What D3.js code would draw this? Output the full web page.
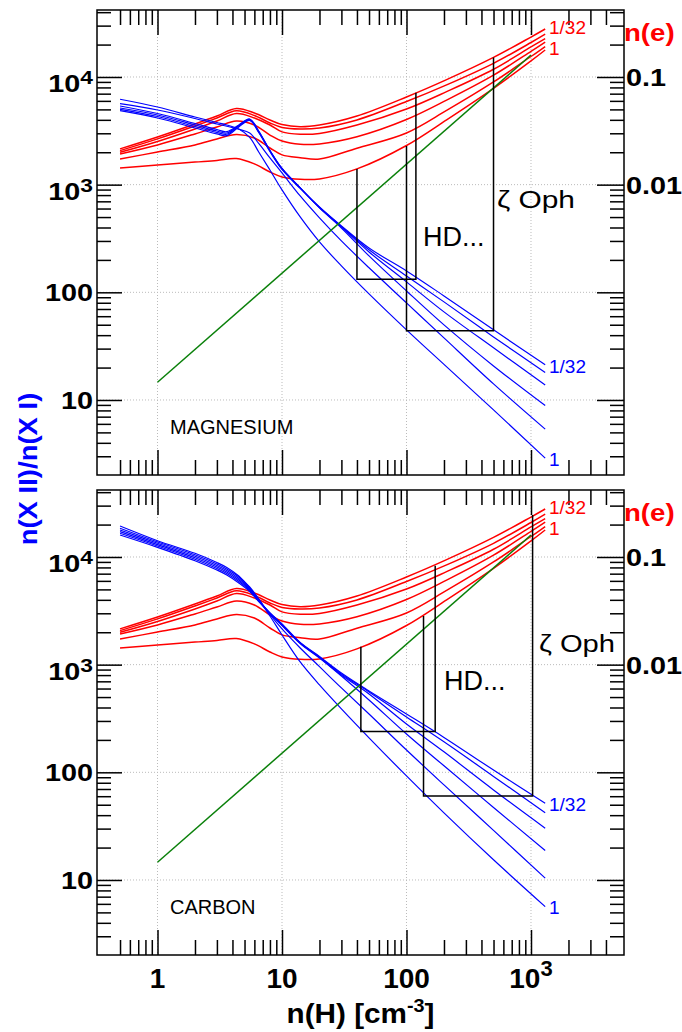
<!DOCTYPE html>
<html lang="en">
<head>
<meta charset="utf-8">
<title>n(X II)/n(X I) vs n(H)</title>
<script src="https://d3js.org/d3.v7.min.js"></script>
<style>
body{margin:0;background:#fff;}
text{font-family:"Liberation Sans",Arial,Helvetica,sans-serif;}
</style>
</head>
<body>
<div id="chart"></div>
<script>
// ---- electron density curves n(e), same in both panels (1/32 ... 1)
var nHRed = [0.5,1,2,3,4.3,6,8,10,14,20,40,100,210,500,1000,1300];
var ne32 = [0.0215,0.0277,0.0366,0.0434,0.051,0.0463,0.0399,0.0362,0.0345,0.0358,0.0434,0.0652,0.0945,0.152,0.235,0.279];
var ne16 = [0.0207,0.0266,0.0351,0.0416,0.0486,0.0439,0.0374,0.034,0.0329,0.0336,0.0399,0.0592,0.0845,0.134,0.209,0.25];
var ne8  = [0.02,0.0252,0.0329,0.039,0.0458,0.0416,0.0358,0.0309,0.0294,0.0299,0.0358,0.0504,0.0731,0.118,0.19,0.227];
var ne4  = [0.0193,0.0234,0.0296,0.0343,0.039,0.0358,0.0289,0.0254,0.0237,0.0239,0.0279,0.0403,0.061,0.104,0.173,0.211];
var ne2  = [0.0173,0.0201,0.0234,0.0266,0.0292,0.0271,0.0219,0.0189,0.0178,0.0173,0.0218,0.0302,0.0489,0.0899,0.155,0.191];
var ne1  = [0.0143,0.0152,0.0162,0.0168,0.0175,0.0156,0.0131,0.0118,0.0112,0.0113,0.014,0.0231,0.040,0.0785,0.141,0.178];

// green line n(e) = f(n(H))
var nHGreen = [1,1000];
var neGreen = [1.46e-4,0.16];

// ---- ionisation ratio curves
var nHBlue = [0.5,1,2,3,3.6,4.5,5.5,6.5,8,10,14,20,30,50,100,200,500,1300];
// magnesium
var mg32 = [4866,4163,3362,2957,2851,3434,3946,3052,2033,1384,922,621,414,258,158,92.6,44.8,21.2];
var mg16 = [5012,4298,3470,3052,2938,3508,3988,3085,2055,1399,932,614,409,248,142,81.5,38.5,18.0];
var mg8  = [5155,4439,3584,3152,3020,3546,4031,3119,2077,1414,932,614,405,237,125,65.8,30.5,13.8];
var mg4  = [5380,4583,3700,3255,3105,3584,4074,3152,2077,1414,932,608,396,218,103,49.8,20.7,8.87];
var mg2  = [5650,4939,4119,3661,3485,3269,3020,2413,1770,1284,785,491,300,169,79.7,37.7,14.1,5.36];
var mg1  = [6210,5265,4253,3780,3584,3291,2750,2012,1369,893,501,294,176,96.6,44.8,21.4,8.09,2.88];
// carbon
var c32 = [16010,12300,9240,7570,6810,5740,4785,3862,3020,2387,1607,1192,837,570,348,211,105,51.6];
var c16 = [16600,12650,9520,7820,7030,5920,4890,3904,3020,2362,1590,1179,819,558,327,192,91.6,42.2];
var c8  = [17180,13010,9830,8070,7260,6120,4990,3946,2987,2336,1590,1166,802,535,281,155,68.6,30.3];
var c4  = [17810,13400,10150,8340,7490,6320,5100,3988,2987,2311,1573,1154,785,470,227,115,47.2,18.8];
var c2  = [18470,13780,10480,8610,7740,6520,5265,4074,2924,2145,1429,958,608,348,161,76.4,28.9,10.4];
var c1  = [19400,14170,10820,8890,7990,6660,5155,3988,2833,1887,1059,648,388,209,92.6,42.0,15.4,5.66];

// ---- observed stars: n(H) range, ratio (bottom), n(e) at left / right side
var mgHD   = {nH:[40,119],  ratio:132,  ne:[0.014,0.0715]};
var mgZeta = {nH:[100,500], ratio:44,   ne:[0.0229,0.152]};
var cHD    = {nH:[43,170],  ratio:239,  ne:[0.0147,0.083]};
var cZeta  = {nH:[137,1030],ratio:60.4, ne:[0.0283,0.245]};

// ---- ticks
var xMajor = [1,10,100,1000];
var xMinor = [0.5,0.6,0.7,0.8,0.9,2,3,4,5,6,7,8,9,20,30,40,50,60,70,80,90,200,300,400,500,600,700,800,900,2000,3000,4000];
var xLabelBase = ["1","10","100","10"];
var xLabelSup  = ["","","","3"];
var yMajor = [10,100,1000,10000];
var yMinor = [3,4,5,6,7,8,9,20,30,40,50,60,70,80,90,200,300,400,500,600,700,800,900,2000,3000,4000,5000,6000,7000,8000,9000,20000,30000,40000];
var yLabelBase = ["10","100","10","10"];
var yLabelSup  = ["","","3","4"];
var neLabelValues = [0.1,0.01];
var neLabelText = ["0.1","0.01"];

var W = 682, H = 1032;
var frameL = 97, frameR = 624, panelTop = 10, panelBottom = 475;
var svg, x;

setUp();
drawPanel({name:"MAGNESIUM", shift:0,   blue:[mg32,mg16,mg8,mg4,mg2,mg1], boxes:[mgHD,mgZeta],
           hd:[423,245.5], zeta:[497,208,78]});
drawPanel({name:"CARBON",    shift:480, blue:[c32,c16,c8,c4,c2,c1],       boxes:[cHD,cZeta],
           hd:[444,690-480], zeta:[539,652-480,76]});
drawAxisTitles();

function setUp(){
	svg = d3.select("#chart").append("svg")
		.attr("width",W).attr("height",H);
	x = d3.scaleLog().domain([0.3266,5585]).range([frameL,frameR]);
}

function tickAxis(g, axis, values, size, tx, ty){
	var a = g.append("g")
		.attr("transform","translate("+tx+","+ty+")")
		.call(axis.tickValues(values).tickSize(size).tickFormat(""));
	a.select(".domain").remove();
	a.selectAll("line").attr("stroke","#000").attr("stroke-width",1.5);
}

function boldText(g, tx, ty, anchor, sx, size, color){
	return g.append("text")
		.attr("transform","translate("+tx+","+ty+") scale("+sx+",1)")
		.attr("text-anchor",anchor)
		.attr("font-weight","bold")
		.attr("font-size",size)
		.attr("fill",color);
}

function drawPanel(p){
	var oy = p.shift;
	var yL = d3.scaleLog().domain([2.01,41900]).range([panelBottom+oy,panelTop+oy]);
	var yR = d3.scaleLog().domain([2.01e-5,0.419]).range([panelBottom+oy,panelTop+oy]);
	var g = svg.append("g");
	var clipId = "clip"+oy;

	g.append("clipPath").attr("id",clipId).append("rect")
		.attr("x",frameL).attr("y",panelTop+oy)
		.attr("width",frameR-frameL).attr("height",panelBottom-panelTop);

	// grid
	g.selectAll(".gx").data(xMajor).enter().append("line")
		.attr("x1",function(d){return x(d);}).attr("x2",function(d){return x(d);})
		.attr("y1",panelTop+oy).attr("y2",panelBottom+oy)
		.attr("stroke","#bbb").attr("stroke-dasharray","1,2");
	g.selectAll(".gy").data(yMajor).enter().append("line")
		.attr("y1",function(d){return yL(d);}).attr("y2",function(d){return yL(d);})
		.attr("x1",frameL).attr("x2",frameR)
		.attr("stroke","#bbb").attr("stroke-dasharray","1,2");

	var plot = g.append("g").attr("clip-path","url(#"+clipId+")");

	// smooth curves through the read-off points
	var lineR = d3.line()
		.x(function(d){return x(d[0]);})
		.y(function(d){return yR(d[1]);})
		.curve(d3.curveCatmullRom.alpha(0.5));
	var lineL = d3.line()
		.x(function(d){return x(d[0]);})
		.y(function(d){return yL(d[1]);})
		.curve(d3.curveCatmullRom.alpha(0.5));

	[ne32,ne16,ne8,ne4,ne2,ne1].forEach(function(v){
		plot.append("path").attr("d",lineR(d3.zip(nHRed,v)))
			.attr("fill","none").attr("stroke","#ff0000").attr("stroke-width",1.5);
	});
	p.blue.forEach(function(v){
		plot.append("path").attr("d",lineL(d3.zip(nHBlue,v)))
			.attr("fill","none").attr("stroke","#0000ff").attr("stroke-width",1.2);
	});
	plot.append("path").attr("d",lineR(d3.zip(nHGreen,neGreen)))
		.attr("fill","none").attr("stroke","#0a800a").attr("stroke-width",1.5);

	// star boxes
	p.boxes.forEach(function(b){
		var pts = [[x(b.nH[0]),yR(b.ne[0])],[x(b.nH[0]),yL(b.ratio)],
		           [x(b.nH[1]),yL(b.ratio)],[x(b.nH[1]),yR(b.ne[1])]];
		plot.append("path").attr("d",d3.line()(pts))
			.attr("fill","none").attr("stroke","#000").attr("stroke-width",1.5);
	});

	// frame
	g.append("rect").attr("x",frameL).attr("y",panelTop+oy)
		.attr("width",frameR-frameL).attr("height",panelBottom-panelTop)
		.attr("fill","none").attr("stroke","#000").attr("stroke-width",1.5);

	// ticks on all four sides
	tickAxis(g, d3.axisRight(yL), yMajor, 25, frameL, 0);
	tickAxis(g, d3.axisRight(yL), yMinor, 14, frameL, 0);
	tickAxis(g, d3.axisLeft(yL), yMajor, 27, frameR, 0);
	tickAxis(g, d3.axisLeft(yL), yMinor, 14, frameR, 0);
	tickAxis(g, d3.axisBottom(x), xMajor, 25, 0, panelTop+oy);
	tickAxis(g, d3.axisBottom(x), xMinor, 15, 0, panelTop+oy);
	tickAxis(g, d3.axisTop(x), xMajor, 25, 0, panelBottom+oy);
	tickAxis(g, d3.axisTop(x), xMinor, 15, 0, panelBottom+oy);

	// left tick labels
	yMajor.forEach(function(v,i){
		if(yLabelSup[i]){
			var t = boldText(g, 93, yL(v)+15, "end", 1.2, 24, "#000");
			t.append("tspan").text(yLabelBase[i]);
			t.append("tspan").attr("dy",-8).attr("font-size",19).text(yLabelSup[i]);
		} else {
			boldText(g, 93, yL(v)+9, "end", 1.2, 24, "#000").text(yLabelBase[i]);
		}
	});
	// right n(e) labels
	neLabelValues.forEach(function(v,i){
		boldText(g, 626, yR(v)+9, "start", 1.2, 24, "#000").text(neLabelText[i]);
	});
	boldText(g, 624, 41+oy, "start", 1.15, 24, "#ff0000").text("n(e)");

	// curve labels
	var small = function(tx,ty,str,col){
		g.append("text").attr("x",tx).attr("y",ty).attr("font-size",19)
			.attr("fill",col).text(str);
	};
	small(549, 34+oy, "1/32", "#ff0000");
	small(549, 55+oy, "1", "#ff0000");
	var blueLab = p.shift ? [811,914] : [373,466];
	small(549, blueLab[0], "1/32", "#0000ff");
	small(549, blueLab[1], "1", "#0000ff");

	g.append("text").attr("x",170).attr("y",434+oy).attr("font-size",20)
		.attr("fill","#000").text(p.name);
	g.append("text").attr("x",p.hd[0]).attr("y",p.hd[1]+oy).attr("font-size",27)
		.attr("fill","#000").text("HD...");
	g.append("text").attr("x",p.zeta[0]).attr("y",p.zeta[1]+oy).attr("font-size",23)
		.attr("textLength",p.zeta[2]).attr("lengthAdjust","spacingAndGlyphs")
		.attr("fill","#000").text("\u03b6 Oph");
}

function drawAxisTitles(){
	var g = svg.append("g");
	// bottom x labels
	xMajor.forEach(function(v,i){
		var t = g.append("text").attr("x",x(v)).attr("y",988)
			.attr("text-anchor","middle").attr("font-weight","bold").attr("font-size",28);
		t.append("tspan").text(xLabelBase[i]);
		if(xLabelSup[i]) t.append("tspan").attr("dy",-12).attr("font-size",22).text(xLabelSup[i]);
	});
	var xt = boldText(g, (frameL+frameR)/2, 1023, "middle", 1.1, 27, "#000");
	xt.append("tspan").text("n(H) [cm");
	xt.append("tspan").attr("dy",-11).attr("font-size",18).text("-3");
	xt.append("tspan").attr("dy",11).text("]");

	g.append("text")
		.attr("transform","translate(37,469) rotate(-90) scale(1.1,1)")
		.attr("text-anchor","middle").attr("font-weight","bold").attr("font-size",25)
		.attr("fill","#0000ff").text("n(X II)/n(X I)");
}
</script>
</body>
</html>
